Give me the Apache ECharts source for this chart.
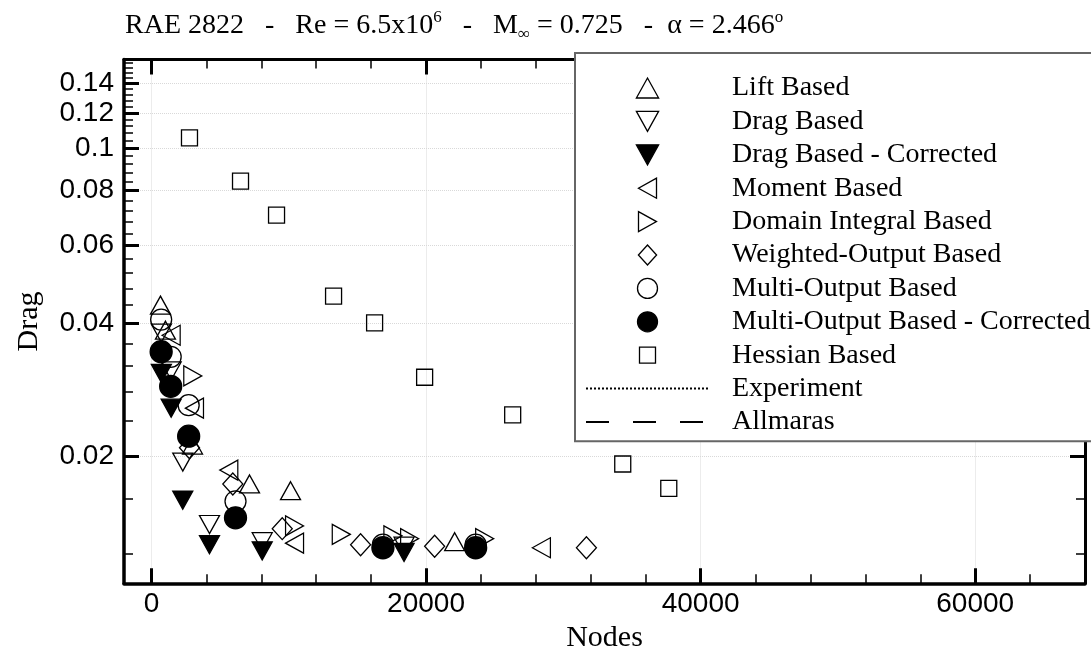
<!DOCTYPE html>
<html>
<head>
<meta charset="utf-8">
<script src="https://cdn.jsdelivr.net/npm/echarts@6/dist/echarts.min.js"></script>
<style>
  html, body { margin: 0; padding: 0; background: #fff; }
  #chart { width: 1091px; height: 652px; }
</style>
</head>
<body>
<div id="chart"></div>
<script>
// axis ranges and tick labels
const X_MIN = -2000;
const X_MAX = 68000;
const Y_MIN = 0.0103;
const Y_MAX = 0.1586;
const xMajor = [0, 20000, 40000, 60000];
const yMajor = [0.02, 0.04, 0.06, 0.08, 0.1, 0.12, 0.14];

// data (nodes, drag)
const liftNodes = [656, 1020, 2990, 7143, 10130, 22085];
const liftDrag = [0.0440, 0.0386, 0.0212, 0.0173, 0.0167, 0.0128];

const dragNodes = [720, 1436, 2281, 4227, 8068, 18400];
const dragDrag = [0.0380, 0.0312, 0.0194, 0.0140, 0.0128, 0.0125];
const dragCorrDrag = [0.0308, 0.0257, 0.0159, 0.0126, 0.0122, 0.0121];

const momentNodes = [1436, 3134, 5634, 10423, 28404];
const momentDrag = [0.0376, 0.0257, 0.0186, 0.0127, 0.0124];

const domainNodes = [3010, 10423, 13826, 17587, 18805, 24271];
const domainDrag = [0.0304, 0.0139, 0.0133, 0.0132, 0.0130, 0.0130];

const weightedNodes = [2770, 5926, 9526, 15233, 20627, 31683];
const weightedDrag = [0.0209, 0.0173, 0.0137, 0.0126, 0.0125, 0.0124];

const multiNodes = [706, 1400, 2710, 6122, 16859, 23615];
const multiDrag = [0.0408, 0.0336, 0.0261, 0.0158, 0.0126, 0.0126];
const multiCorrDrag = [0.0345, 0.0288, 0.0222, 0.0145, 0.0124, 0.0124];

const hessianNodes = [2770, 6487, 9111, 13265, 16254, 19898, 26312, 34329, 37682];
const hessianDrag = [0.1053, 0.0841, 0.0704, 0.0461, 0.0401, 0.0302, 0.0248, 0.0192, 0.0169];

const EXPERIMENT_DRAG = 0.0127;
const ALLMARAS_DRAG = 0.0121;

// minor ticks every 4000 nodes / every 0.004 drag
const xMinor = [];
for (let v = 4000; v < X_MAX; v += 4000) {
  if (v % 20000 !== 0) xMinor.push(v);
}
const yMinor = [];
for (let k = 3; k <= 39; k++) {
  if (k % 5 !== 0) yMinor.push(k * 4 / 1000);
}

const sans = 'Liberation Sans';
const serif = 'Liberation Serif';

// legend glyphs (scatter legend icons do not follow symbolRotate)
const TRI_UP = 'path://M10,0L20,18L0,18Z';
const TRI_DOWN = 'path://M0,0L20,0L10,18Z';
const TRI_LEFT = 'path://M18,0L18,20L0,10Z';
const TRI_RIGHT = 'path://M0,0L18,10L0,20Z';
const DIAMOND = 'path://M10,0L20,11L10,22L0,11Z';
const SQUARE = 'path://M-2,-2M18,18M0,0L16,0L16,16L0,16Z';
const NO_MARK = { color: 'rgba(0,0,0,0)', borderColor: 'rgba(0,0,0,0)', borderWidth: 0 };

const pairs = (nodes, vals) => nodes.map((n, i) => [n, vals[i]]);

const scatter = (name, nodes, vals, symbol, size, rotate, filled) => ({
  name: name,
  type: 'scatter',
  symbol: symbol,
  symbolSize: size,
  symbolRotate: rotate,
  data: pairs(nodes, vals),
  z: 3,
  silent: true,
  itemStyle: {
    color: filled ? '#000' : 'rgba(255,255,255,0)',
    borderColor: '#000',
    borderWidth: 1.3,
    opacity: 1
  }
});

const refLine = (name, value, type) => ({
  name: name,
  type: 'line',
  data: [],
  symbol: 'none',
  z: 2,
  itemStyle: NO_MARK,
  lineStyle: { color: '#000', width: 2, type: type },
  markLine: {
    silent: true,
    symbol: 'none',
    label: { show: false },
    lineStyle: { color: '#000', width: 2, type: type },
    data: [{ yAxis: value }]
  }
});

const tickAxis = (kind, position, values, length, width, withLine) => ({
  type: kind,
  position: position,
  min: kind === 'log' ? Y_MIN : X_MIN,
  max: kind === 'log' ? Y_MAX : X_MAX,
  axisLine: { show: withLine, onZero: false, lineStyle: { color: '#000', width: 3 } },
  axisTick: { show: true, inside: true, length: length, customValues: values,
    lineStyle: { color: '#000', width: width } },
  axisLabel: { show: false },
  splitLine: { show: false }
});

const chart = echarts.init(document.getElementById('chart'));

const option = {
  animation: false,
  backgroundColor: '#fff',
  title: {
    left: 125,
    top: 9,
    padding: 0,
    text: '{n|RAE 2822   -   Re = 6.5x10}{sup|6}{n|   -   M}{sub|∞}{n| = 0.725   -  α = 2.466}{sup|o}',
    textStyle: {
      fontWeight: 'normal',
      rich: {
        n: { fontFamily: serif, fontSize: 28, fontWeight: 'normal', color: '#000', lineHeight: 34 },
        sup: { fontFamily: serif, fontSize: 17, fontWeight: 'normal', color: '#000', lineHeight: 17, verticalAlign: 'top' },
        sub: { fontFamily: serif, fontSize: 17, fontWeight: 'normal', color: '#000', lineHeight: 17, verticalAlign: 'bottom' }
      }
    }
  },
  grid: { left: 124, right: 6, top: 59.5, bottom: 68.7, outerBoundsMode: 'none' },
  legend: {
    orient: 'vertical',
    left: 575,
    top: 53,
    padding: [18.3, 8, 2.6, 10],
    itemWidth: 123,
    itemHeight: 20,
    itemGap: 0,
    symbolKeepAspect: true,
    selectedMode: false,
    backgroundColor: '#fff',
    borderColor: '#666',
    borderWidth: 2,
    z: 10,
    itemStyle: { borderWidth: 1.3 },
    textStyle: { fontFamily: serif, fontSize: 28, color: '#000', lineHeight: 33.4, padding: [0, 0, 0, 18] },
    data: [
      { name: 'Lift Based', icon: TRI_UP },
      { name: 'Drag Based', icon: TRI_DOWN },
      { name: 'Drag Based - Corrected', icon: TRI_DOWN },
      { name: 'Moment Based', icon: TRI_LEFT },
      { name: 'Domain Integral Based', icon: TRI_RIGHT },
      { name: 'Weighted-Output Based', icon: DIAMOND },
      { name: 'Multi-Output Based', icon: 'circle' },
      { name: 'Multi-Output Based - Corrected', icon: 'circle' },
      { name: 'Hessian Based', icon: SQUARE },
      { name: 'Experiment', itemStyle: NO_MARK },
      { name: 'Allmaras', itemStyle: NO_MARK }
    ]
  },
  xAxis: [
    {
      type: 'value',
      position: 'bottom',
      min: X_MIN,
      max: X_MAX,
      name: 'Nodes',
      nameLocation: 'middle',
      nameGap: 37,
      nameTextStyle: { fontFamily: serif, fontSize: 30, color: '#000' },
      axisLine: { show: true, onZero: false, lineStyle: { color: '#000', width: 3.5 } },
      axisTick: { show: true, inside: true, length: 15, customValues: xMajor,
        lineStyle: { color: '#000', width: 3 } },
      axisLabel: { customValues: xMajor, formatter: v => String(v),
        fontFamily: sans, fontSize: 28, color: '#000', margin: 7 },
      splitLine: { show: true, lineStyle: { color: '#d9d9d9', type: 'dotted', width: 1 } }
    },
    tickAxis('value', 'bottom', xMinor, 9, 1.5, false),
    tickAxis('value', 'top', xMajor, 15, 3, true),
    tickAxis('value', 'top', xMinor, 9, 1.5, false)
  ],
  yAxis: [
    {
      type: 'log',
      position: 'left',
      min: Y_MIN,
      max: Y_MAX,
      name: 'Drag',
      nameLocation: 'middle',
      nameGap: 80,
      nameRotate: 90,
      nameTextStyle: { fontFamily: serif, fontSize: 30, color: '#000' },
      axisLine: { show: true, onZero: false, lineStyle: { color: '#000', width: 3.5 } },
      axisTick: { show: true, inside: true, length: 15, customValues: yMajor,
        lineStyle: { color: '#000', width: 3 } },
      axisLabel: { customValues: yMajor, formatter: v => String(v),
        fontFamily: sans, fontSize: 28, color: '#000', margin: 10 },
      splitLine: { show: true, lineStyle: { color: '#d9d9d9', type: 'dotted', width: 1 } }
    },
    tickAxis('log', 'left', yMinor, 9, 1.5, false),
    tickAxis('log', 'right', yMajor, 15, 3, true),
    tickAxis('log', 'right', yMinor, 9, 1.5, false)
  ],
  series: [
    scatter('Lift Based', liftNodes, liftDrag, 'triangle', [20, 18], 0, false),
    scatter('Drag Based', dragNodes, dragDrag, 'triangle', [20, 18], 180, false),
    scatter('Drag Based - Corrected', dragNodes, dragCorrDrag, 'triangle', [20, 18], 180, true),
    scatter('Moment Based', momentNodes, momentDrag, 'triangle', [20, 18], 90, false),
    scatter('Domain Integral Based', domainNodes, domainDrag, 'triangle', [20, 18], -90, false),
    scatter('Weighted-Output Based', weightedNodes, weightedDrag, 'diamond', [20, 22], 0, false),
    scatter('Multi-Output Based', multiNodes, multiDrag, 'circle', 21, 0, false),
    scatter('Multi-Output Based - Corrected', multiNodes, multiCorrDrag, 'circle', 22, 0, true),
    scatter('Hessian Based', hessianNodes, hessianDrag, 'rect', 16, 0, false),
    refLine('Experiment', EXPERIMENT_DRAG, 'dotted'),
    refLine('Allmaras', ALLMARAS_DRAG, [23, 24])
  ]
};

chart.setOption(option);
</script>
</body>
</html>
